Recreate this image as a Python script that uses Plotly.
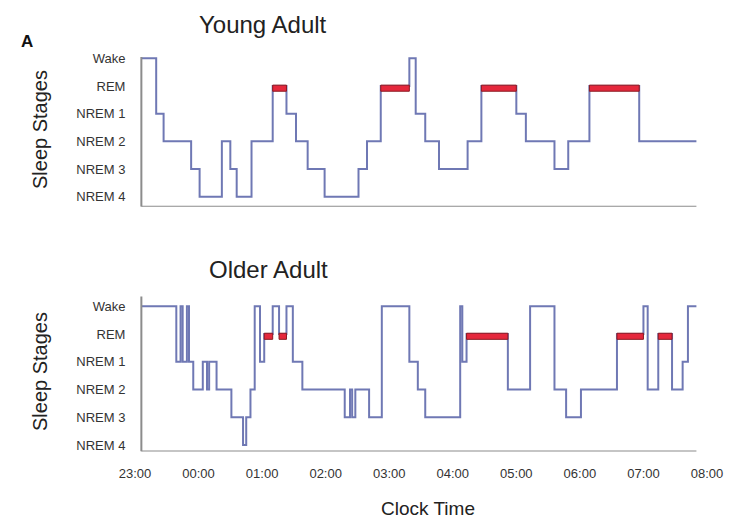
import plotly.graph_objects as go
from datetime import datetime

# ---- data ----
stage_labels = ["NREM 4", "NREM 3", "NREM 2", "NREM 1", "REM", "Wake"]
hour_ticks = ["23:00", "00:00", "01:00", "02:00", "03:00", "04:00",
              "05:00", "06:00", "07:00", "08:00"]

young_times = ["23:06", "23:20", "23:27", "23:53", "00:01", "00:22", "00:30",
               "00:36", "00:50", "01:10", "01:23", "01:32", "01:43", "01:59",
               "02:31", "02:39", "02:52", "03:19", "03:25", "03:34", "03:47",
               "04:14", "04:27", "05:00", "05:09", "05:36", "05:49", "06:09",
               "06:56", "07:50"]
young_stages = ["Wake", "NREM 1", "NREM 2", "NREM 3", "NREM 4", "NREM 2",
                "NREM 3", "NREM 4", "NREM 2", "REM", "NREM 1", "NREM 2",
                "NREM 3", "NREM 4", "NREM 3", "NREM 2", "REM", "Wake",
                "NREM 1", "NREM 2", "NREM 3", "NREM 2", "REM", "NREM 1",
                "NREM 2", "NREM 3", "NREM 2", "REM", "NREM 2", "NREM 2"]

older_times = ["23:06", "23:39", "23:43", "23:45", "23:49", "23:51", "23:55",
               "00:04", "00:08", "00:10", "00:17", "00:31", "00:42", "00:45",
               "00:49", "00:53", "00:58", "01:02", "01:10", "01:16", "01:23",
               "01:29", "01:38", "02:18", "02:23", "02:25", "02:28", "02:41",
               "02:53", "03:19", "03:27", "03:34", "04:07", "04:09", "04:13",
               "04:52", "05:13", "05:36", "05:47", "06:01", "06:35", "07:00",
               "07:04", "07:14", "07:27", "07:37", "07:42", "07:50"]
older_stages = ["Wake", "NREM 1", "Wake", "NREM 1", "Wake", "NREM 1",
                "NREM 2", "NREM 1", "NREM 2", "NREM 1", "NREM 2", "NREM 3",
                "NREM 4", "NREM 3", "NREM 2", "Wake", "NREM 1", "REM", "Wake",
                "REM", "Wake", "NREM 1", "NREM 2", "NREM 3", "NREM 2",
                "NREM 3", "NREM 2", "NREM 3", "Wake", "NREM 1", "NREM 2",
                "NREM 3", "Wake", "NREM 1", "REM", "NREM 2", "Wake", "NREM 2",
                "NREM 3", "NREM 2", "REM", "Wake", "NREM 2", "REM", "NREM 2",
                "NREM 1", "Wake", "Wake"]

# ---- helpers ----
def to_dt(s):
    h, m = map(int, s.split(":"))
    day = 1 if h >= 12 else 2
    return datetime(2024, 1, day, h, m)

level = {name: i for i, name in enumerate(stage_labels)}
BLUE = "#6f78b4"
RED = "#e5283c"
AXIS = "#8c8c8c"
FONT = "Liberation Sans, Arial, Helvetica, sans-serif"
W, H, OFF = 745, 527, 8

def fx(px):
    return (px - OFF) / W

def fy(py):
    return 1 - (py - OFF) / H

tick_dt = [to_dt(t) for t in hour_ticks]

fig = go.Figure()

def add_panel(times, stages, xa, ya):
    xs = [to_dt(t) for t in times]
    ys = [level[s] for s in stages]
    fig.add_trace(go.Scatter(x=xs, y=ys, mode="lines", line_shape="hv",
                             line=dict(color=BLUE, width=2),
                             xaxis=xa, yaxis=ya, showlegend=False,
                             hoverinfo="skip"))
    bx, by = [], []
    for i in range(len(xs) - 1):
        if stages[i] == "REM":
            x0, x1 = xs[i], xs[i + 1]
            top = level["REM"] + 0.03
            bot = level["REM"] - 0.19
            bx += [x0, x1, x1, x0, x0, None]
            by += [top, top, bot, bot, top, None]
    fig.add_trace(go.Scatter(x=bx, y=by, mode="lines", fill="toself",
                             fillcolor=RED, line=dict(color="#8a1a22", width=1),
                             xaxis=xa, yaxis=ya, showlegend=False,
                             hoverinfo="skip"))
    return xs[0], xs[-1]

y0a, y1a = add_panel(young_times, young_stages, "x", "y")
y0b, y1b = add_panel(older_times, older_stages, "x2", "y2")

xdom = [fx(135), fx(707)]
xcommon = dict(range=[tick_dt[0], tick_dt[-1]], showgrid=False, zeroline=False,
               showline=False, domain=xdom, ticks="", type="date",
               automargin=False)
ycommon = dict(tickvals=list(range(6)), ticktext=stage_labels, showgrid=False,
               zeroline=False, showline=False, ticks="outside", ticklen=6,
               tickcolor="rgba(0,0,0,0)", automargin=False,
               tickfont=dict(family=FONT, size=13, color="#333333"))

fig.update_layout(
    width=W, height=H, margin=dict(l=0, r=0, t=0, b=0, autoexpand=False),
    paper_bgcolor="white", plot_bgcolor="white",
    xaxis=dict(**xcommon, showticklabels=False, anchor="y"),
    xaxis2=dict(**xcommon, anchor="y2", tickvals=tick_dt, ticktext=hour_ticks,
                tickfont=dict(family=FONT, size=13, color="#333333"),
                ticklabelstandoff=12),
    yaxis=dict(**ycommon, range=[-0.36, 5.4], domain=[fy(206.7), fy(47.2)], anchor="x"),
    yaxis2=dict(**ycommon, range=[-0.23, 5.4], domain=[fy(451.5), fy(295.2)], anchor="x2"),
)

for xr, yr, x0, x1, ybot, ytop in [("x", "y", y0a, y1a, -0.36, 5.05),
                                   ("x2", "y2", y0b, y1b, -0.23, 5.35)]:
    fig.add_shape(type="line", xref=xr, yref=yr, x0=x0, x1=x1, y0=ybot, y1=ybot,
                  line=dict(color=AXIS, width=2))
    fig.add_shape(type="line", xref=xr, yref=yr, x0=x0, x1=x0, y0=ybot, y1=ytop,
                  line=dict(color=AXIS, width=2))

def ann(text, px, py, size, bold=False, angle=0, color="#222222"):
    fig.add_annotation(text=f"<b>{text}</b>" if bold else text,
                       x=fx(px), y=fy(py), xref="paper", yref="paper",
                       showarrow=False, textangle=angle,
                       font=dict(family=FONT, size=size, color=color),
                       xanchor="center", yanchor="middle")

ann("A", 27, 42, 17, bold=True, color="#111111")
ann("Young Adult", 263, 24, 24)
ann("Older Adult", 268, 270, 24)
ann("Sleep Stages", 40, 130, 20, angle=-90)
ann("Sleep Stages", 40, 372, 20, angle=-90)
ann("Clock Time", 428, 508, 19)

fig.write_html("out.html")
